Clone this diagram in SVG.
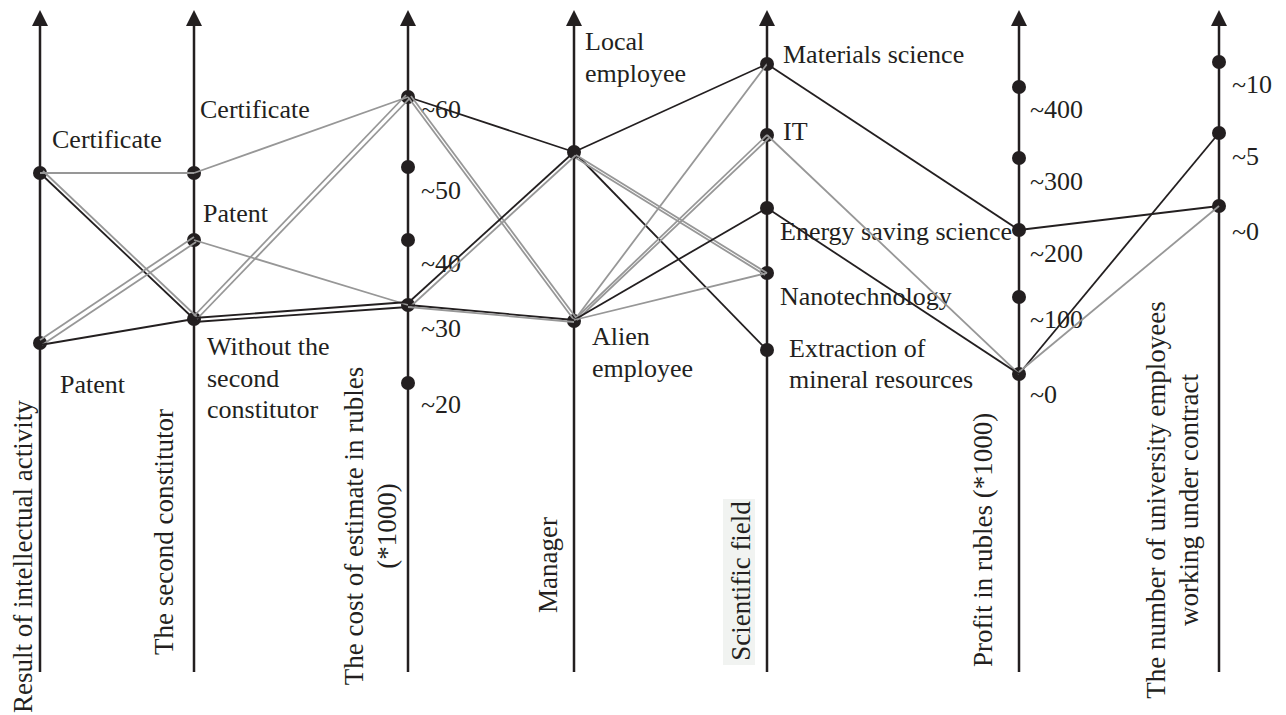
<svg xmlns="http://www.w3.org/2000/svg" width="1286" height="715" viewBox="0 0 1286 715">
<style>
text{font-family:"Liberation Serif","Times New Roman",serif;font-size:26px;fill:#231f20}
.t{font-size:27px}
.ax{stroke:#231f20;stroke-width:2.5;fill:none}
.ah{fill:#231f20}
.dot{fill:#231f20}
.b{stroke:#231f20;stroke-width:1.8;fill:none}
.g{stroke:#979797;stroke-width:1.8;fill:none}
.mid{text-anchor:middle}
</style>
<rect width="1286" height="715" fill="#fff"/>
<g id="axis-result">
<line class="ax" x1="40" y1="22" x2="40" y2="672"/><polygon class="ah" points="40,10 32,26 48,26"/>
<circle class="dot" cx="40" cy="173" r="7"/><circle class="dot" cx="40" cy="343" r="7"/>
<text x="52" y="148">Certificate</text><text x="60" y="393">Patent</text>
<text class="t" transform="translate(32,713) rotate(-90)">Result of intellectual activity</text>
</g>
<g id="axis-constitutor">
<line class="ax" x1="194" y1="22" x2="194" y2="672"/><polygon class="ah" points="194,10 186,26 202,26"/>
<circle class="dot" cx="194" cy="173" r="7"/><circle class="dot" cx="194" cy="240" r="7"/><circle class="dot" cx="194" cy="319" r="7"/>
<text x="200" y="118">Certificate</text><text x="203" y="222">Patent</text>
<text x="207" y="355">Without the</text><text x="207" y="387">second</text><text x="207" y="418">constitutor</text>
<text class="t" transform="translate(173,655) rotate(-90)">The second constitutor</text>
</g>
<g id="axis-cost">
<line class="ax" x1="408" y1="22" x2="408" y2="672"/><polygon class="ah" points="408,10 400,26 416,26"/>
<circle class="dot" cx="408" cy="97" r="7"/><circle class="dot" cx="408" cy="167" r="7"/><circle class="dot" cx="408" cy="240" r="7"/><circle class="dot" cx="408" cy="305" r="7"/><circle class="dot" cx="408" cy="383" r="7"/>
<text x="421" y="118">~60</text><text x="421" y="199">~50</text><text x="421" y="272">~40</text><text x="421" y="337">~30</text><text x="421" y="413">~20</text>
<text class="t mid" transform="translate(363,526) rotate(-90)">The cost of estimate in rubles</text>
<text class="t mid" transform="translate(396,526) rotate(-90)">(*1000)</text>
</g>
<g id="axis-manager">
<line class="ax" x1="574" y1="22" x2="574" y2="672"/><polygon class="ah" points="574,10 566,26 582,26"/>
<circle class="dot" cx="574" cy="152" r="7"/><circle class="dot" cx="574" cy="321" r="7"/>
<text x="585" y="50">Local</text><text x="585" y="82">employee</text>
<text x="592" y="345">Alien</text><text x="592" y="377">employee</text>
<text class="t mid" transform="translate(557,565) rotate(-90)">Manager</text>
</g>
<g id="axis-field">
<line class="ax" x1="767" y1="22" x2="767" y2="672"/><polygon class="ah" points="767,10 759,26 775,26"/>
<circle class="dot" cx="767" cy="64" r="7"/><circle class="dot" cx="767" cy="135" r="7"/><circle class="dot" cx="767" cy="208" r="7"/><circle class="dot" cx="767" cy="273" r="7"/><circle class="dot" cx="767" cy="350" r="7"/>
<text x="783" y="63">Materials science</text><text x="783" y="140">IT</text>
<text x="780" y="240">Energy saving science</text><text x="780" y="305">Nanotechnology</text>
<text x="789" y="357">Extraction of</text><text x="789" y="388">mineral resources</text>
<rect x="723" y="499" width="32" height="166" fill="#f1f3f1"/>
<text class="t mid" transform="translate(750,581) rotate(-90)">Scientific field</text>
</g>
<g id="axis-profit">
<line class="ax" x1="1019" y1="22" x2="1019" y2="672"/><polygon class="ah" points="1019,10 1011,26 1027,26"/>
<circle class="dot" cx="1019" cy="87" r="7"/><circle class="dot" cx="1019" cy="158" r="7"/><circle class="dot" cx="1019" cy="230" r="7"/><circle class="dot" cx="1019" cy="297" r="7"/><circle class="dot" cx="1019" cy="374" r="7"/>
<text x="1030" y="118">~400</text><text x="1030" y="190">~300</text><text x="1030" y="262">~200</text><text x="1030" y="328">~100</text><text x="1030" y="403">~0</text>
<text class="t" transform="translate(992,667) rotate(-90)">Profit in rubles (*1000)</text>
</g>
<g id="axis-employees">
<line class="ax" x1="1219" y1="22" x2="1219" y2="672"/><polygon class="ah" points="1219,10 1211,26 1227,26"/>
<circle class="dot" cx="1219" cy="62" r="7"/><circle class="dot" cx="1219" cy="133" r="7"/><circle class="dot" cx="1219" cy="206" r="7"/>
<text x="1232" y="93">~10</text><text x="1232" y="165">~5</text><text x="1232" y="240">~0</text>
<text class="t mid" transform="translate(1165,500) rotate(-90)">The number of university employees</text>
<text class="t mid" transform="translate(1198,500) rotate(-90)">working under contract</text>
</g>
<g id="connectors">
<line class="b" x1="40" y1="173" x2="194" y2="319"/>
<line class="g" x1="43" y1="171" x2="197" y2="317"/>
<line class="g" x1="40" y1="173" x2="194" y2="173"/>
<line class="g" x1="40" y1="340" x2="194" y2="237"/>
<line class="g" x1="42" y1="345" x2="196" y2="242"/>
<line class="b" x1="40" y1="345" x2="194" y2="319"/>
<line class="g" x1="194" y1="173" x2="408" y2="97"/>
<line class="g" x1="194" y1="316" x2="406" y2="95"/>
<line class="g" x1="197" y1="319" x2="410" y2="98"/>
<line class="g" x1="194" y1="240" x2="408" y2="305"/>
<line class="b" x1="194" y1="318" x2="408" y2="302"/>
<line class="b" x1="194" y1="322" x2="408" y2="307"/>
<line class="b" x1="408" y1="97" x2="574" y2="152"/>
<line class="g" x1="408" y1="97" x2="574" y2="320"/>
<line class="g" x1="411" y1="96" x2="577" y2="319"/>
<line class="b" x1="408" y1="303" x2="574" y2="152"/>
<line class="g" x1="410" y1="307" x2="576" y2="155"/>
<line class="b" x1="408" y1="305" x2="574" y2="320"/>
<line class="g" x1="408" y1="307" x2="574" y2="322"/>
<line class="b" x1="574" y1="152" x2="767" y2="64"/>
<line class="b" x1="574" y1="152" x2="767" y2="350"/>
<line class="g" x1="576" y1="155" x2="767" y2="273"/>
<line class="g" x1="576" y1="158" x2="765" y2="275"/>
<line class="g" x1="576" y1="318" x2="767" y2="64"/>
<line class="g" x1="574" y1="320" x2="767" y2="135"/>
<line class="g" x1="577" y1="320" x2="769" y2="138"/>
<line class="b" x1="574" y1="320" x2="767" y2="208"/>
<line class="g" x1="574" y1="320" x2="767" y2="273"/>
<line class="b" x1="767" y1="64" x2="1019" y2="230"/>
<line class="g" x1="767" y1="135" x2="1019" y2="374"/>
<line class="b" x1="767" y1="208" x2="1019" y2="374"/>
<line class="b" x1="1019" y1="230" x2="1219" y2="206"/>
<line class="b" x1="1019" y1="374" x2="1219" y2="133"/>
<line class="g" x1="1019" y1="372" x2="1219" y2="206"/>
</g>
</svg>
